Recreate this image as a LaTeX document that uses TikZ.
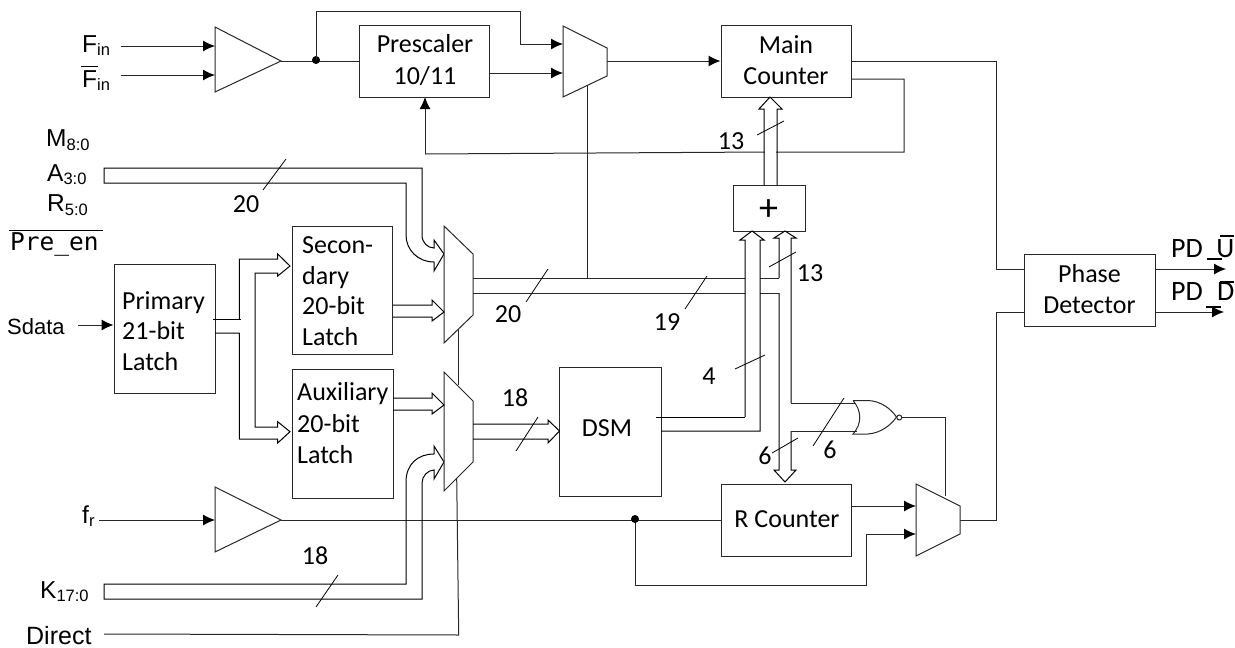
\documentclass[tikz,border=0pt]{standalone}
\usepackage{fontspec}
\setmainfont{Carlito}
\newfontfamily\arialf{Liberation Sans}
\newfontfamily\monof{DejaVu Sans Mono}
\usetikzlibrary{arrows.meta}
\definecolor{ln}{RGB}{40,40,40}
\newcommand{\lblfont}{\arialf\fontsize{24.5}{27}\selectfont}
\tikzset{
 x=1pt,y=-1pt,
 wire/.style={draw=ln,line width=1pt},
 sig/.style={wire,-{Latex[length=12pt,width=11pt,black]}},
 block/.style={draw=ln,line width=1pt,fill=white},
 busw/.style={draw=black,line width=1pt},
 slash/.style={draw=black,line width=0.8pt},
 txt/.style={font=\fontsize{26}{28}\selectfont,inner sep=0pt,text=black},
 ctxt/.style={txt,anchor=base},
 ltxt/.style={txt,anchor=base west},
 lbl/.style={inner sep=0pt,text=black,anchor=base west},
 pdtxt/.style={font=\fontsize{28}{30}\selectfont,inner sep=0pt,text=black},
}
\newcommand{\mysub}[2]{{\lblfont #1\raisebox{-3.5pt}{\arialf\fontsize{16.5}{18}\selectfont #2}}}
\begin{document}
\begin{tikzpicture}
\useasboundingbox[fill=white] (0,0) rectangle (1235,648);
\coordinate (finA) at (121,46);
\coordinate (finB) at (121,75);
\coordinate (frA) at (99,520);
\coordinate (sdA) at (78,325);
\coordinate (dirA) at (104,634);
% long wires beneath
\draw[wire] (851,79) -- (904,79) -- (904,152) -- (767,152) -- (425,154);
\draw[sig] (425,154) -- (425,97);
\draw[wire] (281,520) -- (721,520);
\draw[wire] (587,85) -- (587,278);
\draw[wire] (458.7,329) -- (458.7,385);
\draw[wire] (dirA) -- (458.7,635) -- (456.7,478);
% top row
\node[block,minimum width=130pt,minimum height=72pt,inner sep=0pt] (pre) at (424,61) {};
\node[ctxt] at (425,52.7) {Prescaler};
\node[ctxt] at (425,84) {10/11};
\node[block,minimum width=130pt,minimum height=72pt,inner sep=0pt] (main) at (786,61) {};
\node[ctxt] at (786,53) {Main};
\node[ctxt] at (786,84) {Counter};
\draw[block] (215,27) -- (215,92) -- (281,61) -- cycle;
\draw[sig] (finA) -- (215,46);
\draw[sig] (finB) -- (215,75);
\coordinate (buf1) at (281,61);
\draw[wire] (buf1) -- (pre.west);
\fill[black] (316,60) circle (4pt);
\draw[block] (563,26) -- (607,48) -- (607,76) -- (563,97) -- cycle;
\draw[sig] (316,60) -- (316,11) -- (520,11) -- (520,44) -- (563,44);
\draw[sig] (489,73) -- (563,73);
\draw[sig] (607,61) -- (main.west);
% phase detector
\node[block,minimum width=131pt,minimum height=72pt,inner sep=0pt] (pd) at (1089.5,290) {};
\node[ctxt] at (1089.5,282) {Phase};
\node[ctxt] at (1089.5,313) {Detector};
\draw[wire] (851,61) -- (996,61) -- (996,269) -- (1024,269);
\draw[wire] (960,520) -- (996,520) -- (996,312) -- (1024,312);
\draw[sig] (1155,269) -- (1226,269);
\draw[sig] (1155,312) -- (1224,312);
\node[pdtxt,anchor=base west] at (1171,257) {PD};
\node[pdtxt,anchor=base east] at (1234.5,257) {U};
\draw[black,line width=1.2pt] (1207,259) -- (1222,259);
\draw[black,line width=1.2pt] (1220,236) -- (1234,236);
\node[pdtxt,anchor=base west] at (1171,300) {PD};
\node[pdtxt,anchor=base east] at (1234.5,300) {D};
\draw[black,line width=1.2pt] (1206,307) -- (1221,307);
\draw[black,line width=1.2pt] (1220,282) -- (1234,282);
% buses
\draw[busw] (104,183) -- (104,168) -- (422,168) -- (422,235) .. controls (422,243) and (428,248) .. (434,248) -- (434,240) -- (444,254) -- (434,271) -- (434,262) .. controls (418,262) and (406,250) .. (406,235) -- (406,183) -- cycle;
\draw[busw] (104,599) -- (104,584) -- (406,584) -- (406,482) .. controls (406,464) and (418,454) .. (434,454) -- (434,446) -- (444,462) -- (434,479) -- (434,470) .. controls (428,470) and (422,476) .. (422,483) -- (422,599) -- cycle;
% mux2 and mux3
\draw[block] (444,226) -- (473,254) -- (473,315) -- (444,343) -- cycle;
\draw[block] (444,372) -- (473,401) -- (473,462) -- (444,491) -- cycle;
% latch boxes
\node[block,minimum width=101pt,minimum height=129pt,inner sep=0pt] (prim) at (164.5,328.5) {};
\node[block,minimum width=100pt,minimum height=128pt,inner sep=0pt] (sec) at (342,290) {};
\node[block,minimum width=101pt,minimum height=129pt,inner sep=0pt] (aux) at (342.5,433.5) {};
\node[ltxt] at (122,309) {Primary};
\node[ltxt] at (122,339) {21-bit};
\node[ltxt] at (122,370) {Latch};
\node[ltxt] at (302,253) {Secon-};
\node[ltxt] at (302,284) {dary};
\node[ltxt] at (302,314) {20-bit};
\node[ltxt] at (302,345) {Latch};
\node[ltxt] at (297,400) {Auxiliary};
\node[ltxt] at (297,432) {20-bit};
\node[ltxt] at (297,463) {Latch};
\draw[sig] (sdA) -- (prim.west |- sdA);
% primary outputs
\draw[busw] (213,319) -- (241,319);
\draw[busw] (239.3,319) -- (239.3,259) -- (277.7,259) -- (277.7,254) -- (290,266) -- (277.7,276) -- (277.7,273) -- (255,273) -- (255,427) -- (277.7,427) -- (277.7,421.7) -- (290,431.7) -- (277.7,443) -- (277.7,439) -- (239.3,439) -- (239.3,333) -- (215,333);
% mux inputs
\draw[busw] (393,305) -- (432,305) -- (432,300) -- (444,312) -- (432,321) -- (432,317) -- (393,317);
\draw[busw] (393,398) -- (432,398) -- (432,393) -- (444,405) -- (432,414) -- (432,410) -- (393,410);
% DSM
\node[block,minimum width=102pt,minimum height=129pt,inner sep=0pt] (dsm) at (610,431.5) {};
\node[ctxt] at (607,436) {DSM};
\draw[busw] (473,424) -- (548,424) -- (548,420) -- (559.5,431) -- (548,443) -- (548,439) -- (473,439);
% adder
\node[block,minimum width=72pt,minimum height=46pt,inner sep=0pt] (add) at (769,208) {};
\node[font=\fontsize{38}{38}\selectfont,inner sep=0pt] at (768.5,210) {+};
% bus adder to main
\path[fill=white] (764.6,150) rectangle (776.4,156);
\draw[busw] (764,185) -- (764,109) -- (759,109) -- (770,97) -- (782,109) -- (777,109) -- (777,185);
% 20/19 bus from mux2
\draw[wire] (473,278) -- (745,278);
\draw[wire] (473,293) -- (745,293);
\draw[wire] (760,278) -- (779,278);
\draw[wire] (760,293) -- (779,293);
\draw[busw] (745,417) -- (745,240) -- (740,240) -- (752,231) -- (764,240) -- (760,240) -- (760,431) -- (661,431);
\draw[busw] (656,417) -- (745,417);
\draw[busw] (779,278) -- (779,238) -- (774,238) -- (785,231) -- (796,238) -- (791,238) -- (791,403);
\draw[busw] (779,293) -- (779,470) -- (774,470) -- (785,482) -- (796,470) -- (791,470) -- (791,431);
% R counter
\node[block,minimum width=130pt,minimum height=72pt,inner sep=0pt] (rc) at (786,520) {};
\node[ctxt] at (787,527) {R Counter};
\draw[block] (916,484) -- (960,506) -- (960,534) -- (916,556) -- cycle;
\draw[sig] (851,506) -- (916,506);
\draw[sig] (635,520) -- (635,585) -- (866,585) -- (866,534) -- (916,534);
\fill[black] (635,519) circle (4pt);
% NOR
\draw[block] (853,400.5) -- (868,400.5) .. controls (881,401) and (891,409) .. (896.5,417) .. controls (891,425) and (881,433) .. (868,434) -- (853,434) .. controls (862,424) and (862,411) .. (853,400.5);
\draw[block] (899.3,417.5) circle (2.5pt);
\draw[wire] (791,403) -- (855,403);
\draw[wire] (791,431) -- (857,431);
\draw[wire] (902,417) -- (945,417) -- (945,496);
% buffer 2
\draw[block] (215,487) -- (215,552) -- (281,520) -- cycle;
\draw[sig] (frA) -- (215,520);
% slashes
\draw[slash] (263,190) -- (286,159);
\draw[slash] (526,302) -- (548,269);
\draw[slash] (516,451) -- (538,417);
\draw[slash] (316,607) -- (338,575);
\draw[slash] (685,309) -- (707,276);
\draw[slash] (757,135) -- (784,121);
\draw[slash] (769,267) -- (796,252);
\draw[slash] (735,369) -- (765,355);
\draw[slash] (772,453) -- (798,438);
\draw[slash] (813,446) -- (844,398);
% numbers
\node[txt] at (246,204) {20};
\node[txt] at (508,314) {20};
\node[txt] at (667,322) {19};
\node[txt] at (515,398) {18};
\node[txt] at (315,556) {18};
\node[txt] at (731,141) {13};
\node[txt] at (810,273) {13};
\node[txt] at (709,376) {4};
\node[txt] at (765,456) {6};
\node[txt] at (830,450) {6};
% labels
\node[lbl] at (82,52.3) {\mysub{F}{in}};
\node[lbl] at (82,87.3) {\mysub{F}{in}};
\draw[black,line width=1pt] (81,66.7) -- (98,66.7);
\node[lbl] at (46,146.7) {\mysub{M}{8:0}};
\node[lbl] at (47,181) {\mysub{A}{3:0}};
\node[lbl] at (47,211.7) {\mysub{R}{5:0}};
\node[font=\monof\fontsize{24.5}{26}\selectfont,inner sep=0pt,anchor=base west] at (10,250.7) {Pre\_en};
\draw[black,line width=1pt] (9,230) -- (103,230);
\node[lbl,font=\arialf\fontsize{22}{24}\selectfont] at (7,334) {Sdata};
\node[lbl] at (82,523) {\mysub{f}{r}};
\node[lbl] at (40,598) {\mysub{K}{17:0}};
\node[lbl,font=\arialf\fontsize{25}{26}\selectfont] at (26,644) {Direct};
\end{tikzpicture}
\end{document}
